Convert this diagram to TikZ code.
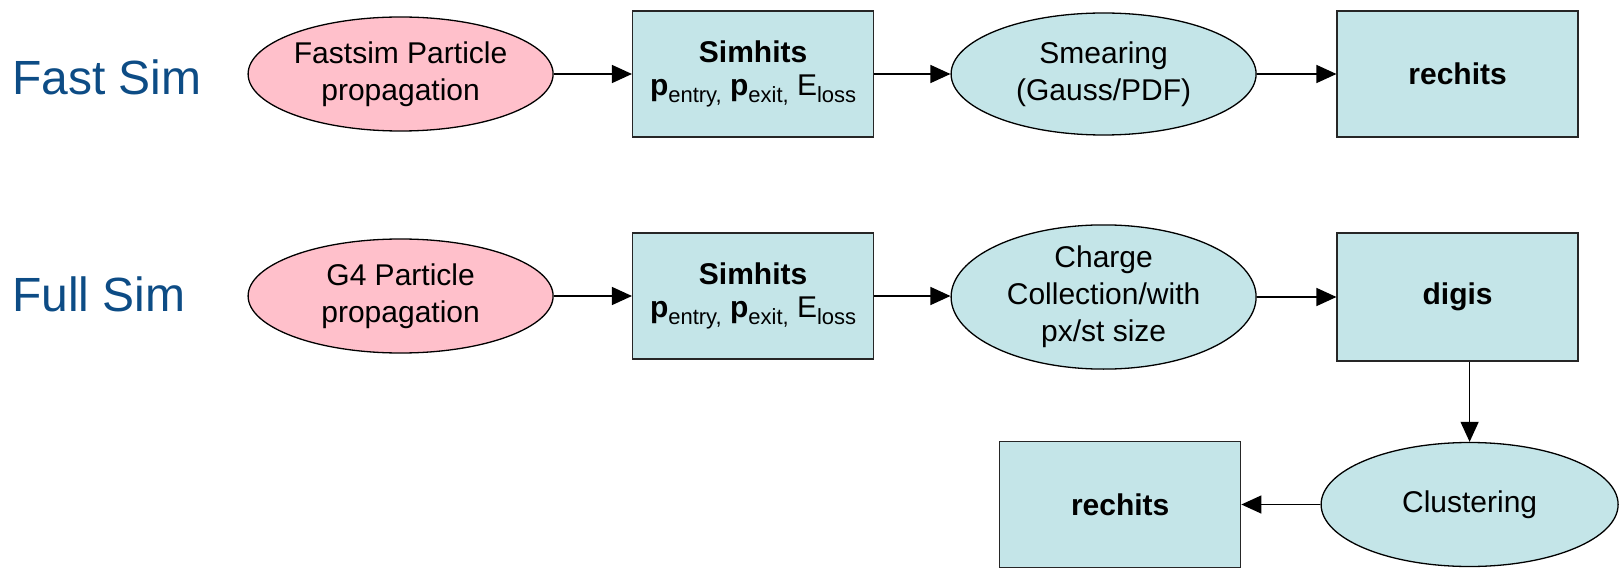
\documentclass[tikz,border=0pt]{standalone}
\usepackage{fontspec}
\setmainfont{Liberation Sans}
\usetikzlibrary{shapes.geometric,arrows.meta}
\definecolor{pinkfill}{HTML}{FFC0CB}
\definecolor{bluefill}{HTML}{C4E5E8}
\definecolor{labelblue}{HTML}{0D4C85}
\newcommand{\subtxt}[1]{\raisebox{-0.22em}{\fontsize{22}{22}\selectfont #1}}
\begin{document}
\begin{tikzpicture}[x=1pt,y=-1pt,
  txt/.style={font=\fontsize{30}{37}\selectfont, align=center, text=black},
  pinkell/.style={ellipse, draw=black, line width=1.3pt, fill=pinkfill, inner sep=0pt, minimum width=305pt, minimum height=114pt, txt},
  blueell/.style={ellipse, draw=black, line width=1.3pt, fill=bluefill, inner sep=0pt, minimum width=305pt, minimum height=122pt, txt},
  bluebox/.style={rectangle, draw=black!85, line width=1.3pt, fill=bluefill, inner sep=0pt, minimum width=241pt, minimum height=126pt, txt},
  rowlabel/.style={anchor=west, font=\fontsize{48}{52}\selectfont, text=labelblue, inner sep=0pt},
  arr/.style={-{Triangle[length=20pt,width=18pt]}, line width=1.3pt, draw=black}
]
\useasboundingbox (0,0) rectangle (1621,569);

\node[rowlabel] (fast) at (12,77) {Fast Sim};
\node[rowlabel] (full) at (12,294) {Full Sim};

% Fast sim row
\node[pinkell] (e1) at (400.6,74) {Fastsim Particle\\propagation};
\node[bluebox] (b1) at (753.1,74) {\textbf{Simhits}\\[-4pt]\textbf{p}\subtxt{entry,} \textbf{p}\subtxt{exit,} E\subtxt{loss}};
\node[blueell] (e2) at (1103.6,74) {Smearing\\(Gauss/PDF)};
\node[bluebox] (b2) at (1457.6,74) {\textbf{rechits}};

% Full sim row
\node[pinkell] (e3) at (400.6,296) {G4 Particle\\propagation};
\node[bluebox] (b3) at (753.1,296) {\textbf{Simhits}\\[-4pt]\textbf{p}\subtxt{entry,} \textbf{p}\subtxt{exit,} E\subtxt{loss}};
\node[blueell, minimum height=117pt] (e4) at (1103.6,297) {Charge\\Collection/with\\px/st size};
\node[bluebox, minimum height=128pt] (b4) at (1457.6,297) {\textbf{digis}};

% Bottom row
\node[blueell, minimum width=297pt, minimum height=124pt] (e5) at (1469.6,504.5) {Clustering};
\node[bluebox] (b5) at (1120.2,504.5) {\textbf{rechits}};

\draw[arr] (e1.east) -- (b1.west);
\draw[arr] (b1.east) -- (e2.west);
\draw[arr] (e2.east) -- (b2.west);

\draw[arr] (e3.east) -- (b3.west |- e3.east);
\draw[arr] (b3.east) -- (e4.west |- b3.east);
\draw[arr] (e4.east) -- (b4.west |- e4.east);

\draw[arr] (e5.north |- b4.south) -- (e5.north);
\draw[arr] (e5.west) -- (b5.east);
\end{tikzpicture}
\end{document}
